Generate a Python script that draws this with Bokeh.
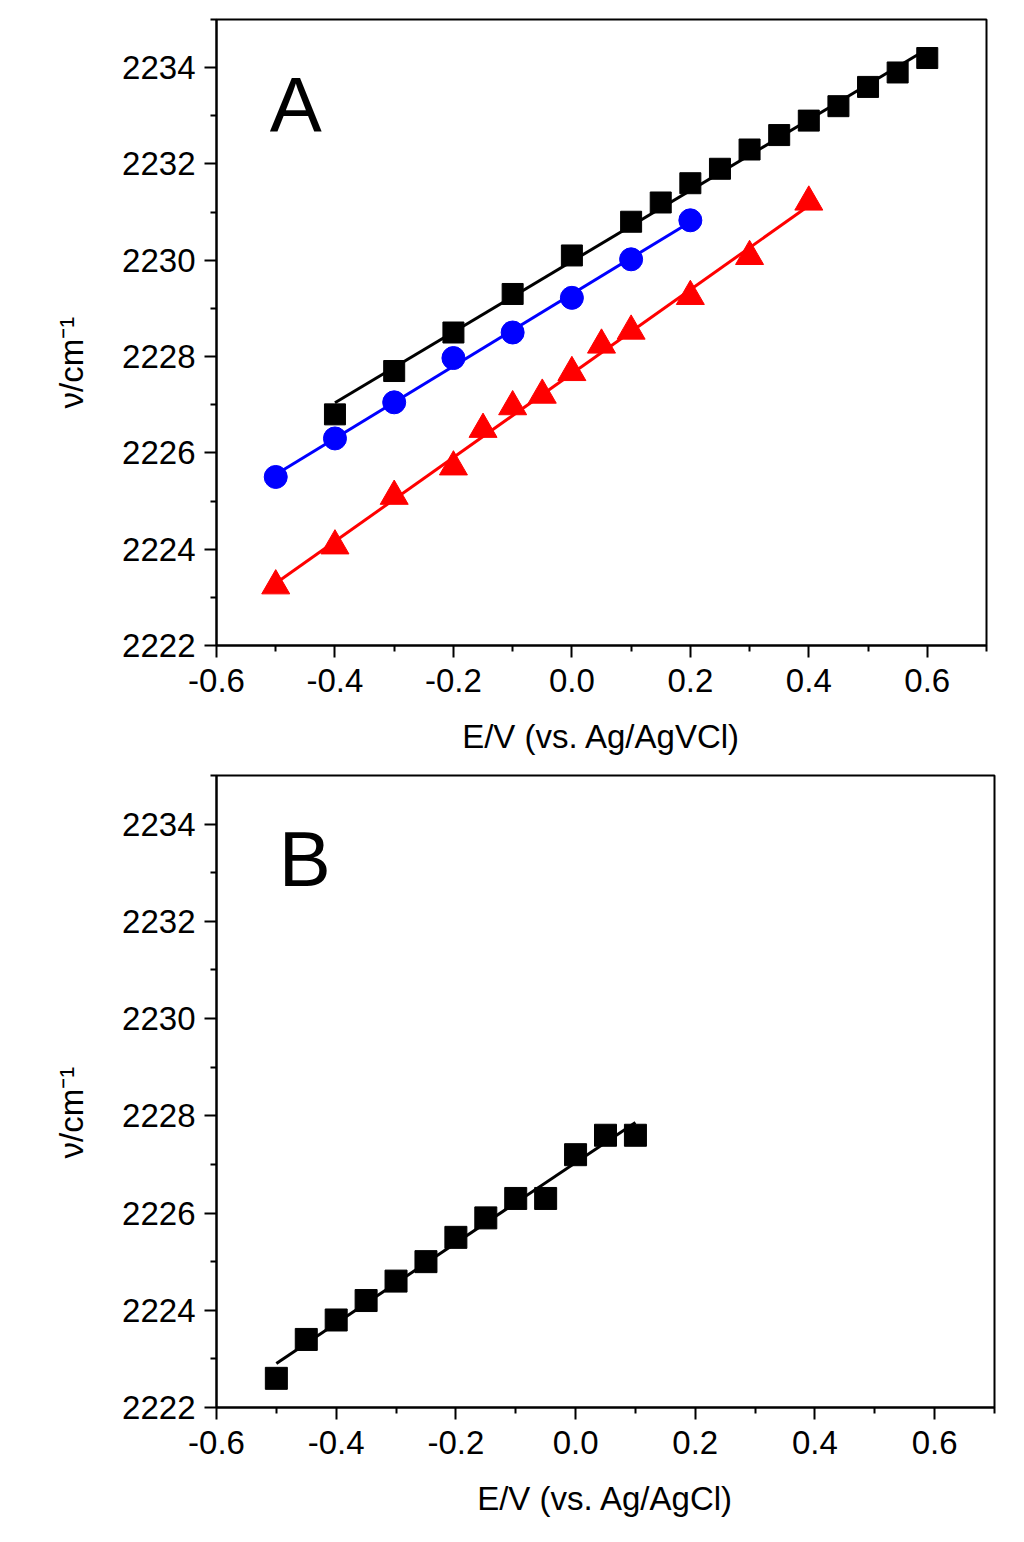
import numpy as np
from bokeh.plotting import figure
from bokeh.layouts import column
from bokeh.models import Range1d, FixedTicker, Label, Title, PrintfTickFormatter
from bokeh.embed import file_html
from bokeh.resources import INLINE

FONT = "Liberation Sans"

# tick values
x_ticks = [-0.6, -0.4, -0.2, 0.0, 0.2, 0.4, 0.6]
x_minor = [-0.5, -0.3, -0.1, 0.1, 0.3, 0.5, 0.7]
y_ticks = [2222, 2224, 2226, 2228, 2230, 2232, 2234]
y_minor = [2223, 2225, 2227, 2229, 2231, 2233, 2235]

# Panel A - squares (black)
a_sq_x = [-0.4, -0.3, -0.2, -0.1, 0.0, 0.1, 0.15, 0.2, 0.25, 0.3, 0.35, 0.4, 0.45, 0.5, 0.55, 0.6]
a_sq_y = [2226.8, 2227.7, 2228.5, 2229.3, 2230.1, 2230.8, 2231.2, 2231.6, 2231.9,
          2232.3, 2232.6, 2232.9, 2233.2, 2233.6, 2233.9, 2234.2]

# Panel A - circles (blue)
a_ci_x = [-0.5, -0.4, -0.3, -0.2, -0.1, 0.0, 0.1, 0.2]
a_ci_y = [2225.5, 2226.3, 2227.05, 2227.97, 2228.5, 2229.22, 2230.02, 2230.83]

# Panel A - triangles (red)
a_tr_x = [-0.5, -0.4, -0.3, -0.2, -0.15, -0.1, -0.05, 0.0, 0.05, 0.1, 0.2, 0.3, 0.4]
a_tr_y = [2223.24, 2224.07, 2225.1, 2225.71, 2226.49, 2226.96, 2227.2, 2227.67,
          2228.24, 2228.53, 2229.25, 2230.08, 2231.21]

# Panel B - squares (black)
b_sq_x = [-0.5, -0.45, -0.4, -0.35, -0.3, -0.25, -0.2, -0.15, -0.1, -0.05, 0.0, 0.05, 0.1]
b_sq_y = [2222.6, 2223.4, 2223.8, 2224.2, 2224.6, 2225.0, 2225.5, 2225.9, 2226.3,
          2226.3, 2227.2, 2227.6, 2227.6]


def make_panel(width, height, top, bottom, right, xlabel, ylabel_offset):
    p = figure(width=width, height=height,
               x_range=Range1d(-0.6, 0.7), y_range=Range1d(2222, 2235),
               output_backend="svg", toolbar_location=None,
               min_border_left=216, min_border_top=top,
               min_border_bottom=bottom, min_border_right=right)
    p.background_fill_color = "white"
    p.border_fill_color = "white"
    p.outline_line_color = "black"
    p.outline_line_width = 2
    p.xgrid.visible = False
    p.ygrid.visible = False

    p.xaxis.ticker = FixedTicker(ticks=x_ticks, minor_ticks=x_minor)
    p.yaxis.ticker = FixedTicker(ticks=y_ticks, minor_ticks=y_minor)
    p.xaxis.formatter = PrintfTickFormatter(format="%.1f")
    p.yaxis.formatter = PrintfTickFormatter(format="%d")

    for ax in (p.xaxis, p.yaxis):
        ax.axis_line_width = 2
        ax.axis_line_color = "black"
        ax.major_tick_line_width = 2
        ax.minor_tick_line_width = 2
        ax.major_tick_line_color = "black"
        ax.minor_tick_line_color = "black"
        ax.major_tick_out = 12
        ax.major_tick_in = 0
        ax.minor_tick_out = 6
        ax.minor_tick_in = 0
        ax.major_label_text_font = FONT
        ax.major_label_text_font_size = "33px"
        ax.major_label_text_color = "black"
    p.xaxis.major_label_standoff = 11
    p.yaxis.major_label_standoff = 9

    p.xaxis.axis_label = xlabel
    p.xaxis.axis_label_text_font = FONT
    p.xaxis.axis_label_text_font_size = "33px"
    p.xaxis.axis_label_text_font_style = "normal"
    p.xaxis.axis_label_text_color = "black"
    p.xaxis.axis_label_standoff = 23

    yt = Title(text="ν/cm⁻¹", align="left", offset=ylabel_offset,
               text_font=FONT, text_font_size="33px",
               text_font_style="normal", text_color="black", standoff=60)
    p.add_layout(yt, "left")
    return p


def fit_line(p, xs, ys, color):
    k, b = np.polyfit(xs, ys, 1)
    x0, x1 = min(xs), max(xs)
    p.line([x0, x1], [k * x0 + b, k * x1 + b], line_color=color, line_width=3)


# ---- Panel A ----
pa = make_panel(1008, 768, 19, 123, 22, "E/V (vs. Ag/AgVCl)", 237)
fit_line(pa, a_sq_x, a_sq_y, "black")
fit_line(pa, a_ci_x, a_ci_y, "#0000ff")
fit_line(pa, a_tr_x, a_tr_y, "#ff0000")
pa.scatter(a_sq_x, a_sq_y, marker="square", size=21, color="black")
pa.scatter(a_ci_x, a_ci_y, marker="circle", size=23, color="#0000ff")
pa.scatter(a_tr_x, a_tr_y, marker="triangle", size=28, color="#ff0000")
pa.add_layout(Label(x=-0.51, y=2233.23, text="A", text_font=FONT,
                    text_font_size="78px", text_baseline="middle",
                    text_color="black"))

# ---- Panel B ----
pb = make_panel(1016, 760, 7, 121, 10, "E/V (vs. Ag/AgCl)", 249)
fit_line(pb, b_sq_x, b_sq_y, "black")
pb.scatter(b_sq_x, b_sq_y, marker="square", size=22, color="black")
pb.add_layout(Label(x=-0.496, y=2233.29, text="B", text_font=FONT,
                    text_font_size="78px", text_baseline="middle",
                    text_color="black"))

layout = column(pa, pb)
open("out.html", "w").write(file_html(layout, INLINE))
